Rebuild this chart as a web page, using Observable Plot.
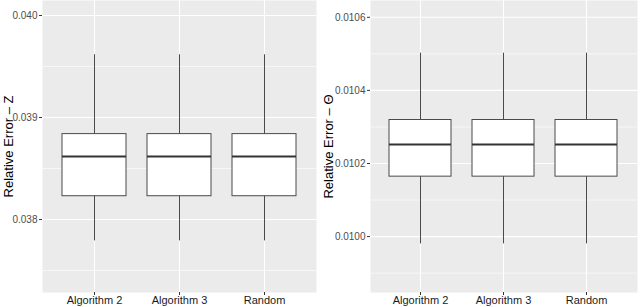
<!DOCTYPE html>
<html>
<head>
<meta charset="utf-8">
<script src="https://cdn.jsdelivr.net/npm/d3@7"></script>
<script src="https://cdn.jsdelivr.net/npm/@observablehq/plot@0.6"></script>
<style>
  body { margin: 0; background: #fff; }
  #wrap { display: flex; width: 640px; height: 307px; }
  svg { font-family: "Liberation Sans", Arial, sans-serif; }
</style>
</head>
<body>
<div id="wrap"></div>
<script>
const categories = ["Algorithm 2", "Algorithm 3", "Random"];

// Panel Z: box stats per category
const zLow    = [0.03779, 0.03779, 0.03779];
const zQ1     = [0.038228, 0.038228, 0.038228];
const zMedian = [0.038618, 0.038618, 0.038618];
const zQ3     = [0.038837, 0.038837, 0.038837];
const zHigh   = [0.039615, 0.039615, 0.039615];
const zMajorTicks = [0.038, 0.039, 0.040];
const zMinorTicks = [0.0375, 0.0385, 0.0395];
const zDomain = [0.037284, 0.040147];

// Panel Theta
const tLow    = [0.00998, 0.00998, 0.00998];
const tQ1     = [0.010164, 0.010164, 0.010164];
const tMedian = [0.010252, 0.010252, 0.010252];
const tQ3     = [0.010319, 0.010319, 0.010319];
const tHigh   = [0.010502, 0.010502, 0.010502];
const tMajorTicks = [0.0100, 0.0102, 0.0104, 0.0106];
const tMinorTicks = [0.0099, 0.0101, 0.0103, 0.0105];
const tDomain = [0.009847, 0.010646];

function rows(low, q1, med, q3, high) {
  return categories.map((c, i) => ({cat: c, low: low[i], q1: q1[i], med: med[i], q3: q3[i], high: high[i]}));
}

function panel({data, domain, major, minor, fmt, title, marginLeft, marginRight, titleDx}) {
  return Plot.plot({
    width: 320,
    height: 307,
    marginLeft,
    marginRight,
    marginTop: 0,
    marginBottom: 15,
    x: {domain: categories, paddingInner: 0.25, paddingOuter: 0.225, label: null},
    y: {domain, label: null},
    marks: [
      Plot.frame({fill: "#EBEBEB", stroke: null}),
      Plot.ruleY(minor, {stroke: "white", strokeWidth: 0.6}),
      Plot.ruleY(major, {stroke: "white", strokeWidth: 1.1}),
      Plot.ruleX(categories, {x: d => d, stroke: "white", strokeWidth: 1.1}),
      Plot.ruleX(data, {x: "cat", y1: "low", y2: "high", stroke: "#4a4a4a", strokeWidth: 1}),
      Plot.barY(data, {x: "cat", y1: "q1", y2: "q3", fill: "white", stroke: "#4a4a4a", strokeWidth: 1}),
      Plot.tickY(data, {x: "cat", y: "med", stroke: "#333", strokeWidth: 2}),
      Plot.axisY({ticks: major, tickFormat: d3.format(fmt), tickSize: 3, tickPadding: 2, fontSize: 10, fill: "#4D4D4D", stroke: "#333", label: null}),
      Plot.axisX({tickSize: 3, tickPadding: 1, fontSize: 11, fill: "#1a1a1a", stroke: "#333", label: null}),
      Plot.text([title], {text: d => d, frameAnchor: "left", textAnchor: "middle", lineAnchor: "middle", dx: titleDx, rotate: -90, fontSize: 13, fill: "black"})
    ]
  });
}

const wrap = document.getElementById("wrap");
wrap.appendChild(panel({
  data: rows(zLow, zQ1, zMedian, zQ3, zHigh),
  domain: zDomain, major: zMajorTicks, minor: zMinorTicks, fmt: ".3f",
  title: "Relative Error – Z", marginLeft: 42, marginRight: 4, titleDx: -34
}));
wrap.appendChild(panel({
  data: rows(tLow, tQ1, tMedian, tQ3, tHigh),
  domain: tDomain, major: tMajorTicks, minor: tMinorTicks, fmt: ".4f",
  title: "Relative Error – Θ", marginLeft: 50, marginRight: 3, titleDx: -42
}));
</script>
</body>
</html>
